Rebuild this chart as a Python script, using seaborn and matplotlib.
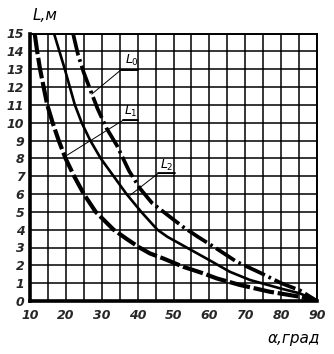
import matplotlib
matplotlib.use("Agg")
import matplotlib.pyplot as plt
import seaborn as sns
import pandas as pd

# Angle (degrees) vs. length L (m) for the three curves
angle_l0 = [22.0, 23.4, 25.0, 26.7, 28.8, 31.3, 34.2, 37.6, 40.7, 44.0, 49.0,
            52.7, 56.8, 62.0, 67.6, 74.0, 80.0, 85.2, 90.0]
length_l0 = [15, 13.8, 12.8, 11.9, 10.8, 9.7, 8.73, 7.3, 6.3, 5.5, 4.72,
             4.15, 3.6, 2.94, 2.2, 1.6, 1.0, 0.6, 0]

angle_l1 = [11.3, 12.0, 12.8, 13.8, 14.8, 16.3, 18.0, 19.9, 22.3, 25.0, 28.3,
            33.3, 36.8, 40.5, 43.4, 47.1, 52.7, 58.3, 62.0, 68.5, 76.8, 85.2, 90.0]
length_l1 = [15, 14, 13, 12, 11, 10, 9, 8, 7, 6, 5,
             4, 3.5, 3.0, 2.67, 2.39, 1.92, 1.55, 1.27, 0.9, 0.52, 0.24, 0]

angle_l2 = [16.7, 18.2, 19.7, 21.1, 22.5, 24.4, 26.8, 29.7, 33.3, 36.9, 41.0,
            45.5, 48.3, 54.2, 60.0, 65.7, 71.3, 79.7, 85.2, 90.0]
length_l2 = [15, 14, 13, 12, 11, 10, 9, 8, 7, 6, 5,
             4, 3.6, 2.94, 2.29, 1.64, 1.18, 0.71, 0.43, 0]

x_ticks = [10, 20, 30, 40, 50, 60, 70, 80, 90]
y_ticks = list(range(0, 16))

# Curve captions: (text, text position, leader line points)
captions = [
    ("$L_0$", (38.3, 13.05), [(27.2, 11.6), (35.3, 12.95), (40.0, 12.95)]),
    ("$L_1$", (38.2, 10.2), [(20.3, 8.17), (35.9, 10.13), (40.1, 10.13)]),
    ("$L_2$", (48.2, 7.2), [(37.9, 5.93), (45.7, 7.15), (50.4, 7.15)]),
]

sns.set_style("white")
plt.rcParams["font.family"] = ["DejaVu Sans"]

fig = plt.figure(figsize=(3.34, 3.54), dpi=100)
ax = fig.add_axes([30 / 334, 53 / 354, 287 / 334, 267.5 / 354])

df0 = pd.DataFrame({"angle": angle_l0, "length": length_l0})
df1 = pd.DataFrame({"angle": angle_l1, "length": length_l1})
df2 = pd.DataFrame({"angle": angle_l2, "length": length_l2})

sns.lineplot(data=df0, x="angle", y="length", ax=ax, color="black",
             linewidth=2.7, sort=False, estimator=None).lines[-1].set_dashes((6, 1.1, 0.7, 1.1))
sns.lineplot(data=df1, x="angle", y="length", ax=ax, color="black",
             linewidth=3.0, sort=False, estimator=None).lines[-1].set_dashes((5, 0.9))
sns.lineplot(data=df2, x="angle", y="length", ax=ax, color="black",
             linewidth=1.9, sort=False, estimator=None)

ax.set_xlim(10, 90)
ax.set_ylim(0, 15)
ax.set_yticks(y_ticks)
ax.set_xticks(x_ticks)
ax.set_xticks(range(15, 90, 10), minor=True)
ax.grid(True, which="major", color="black", linewidth=1.1)
ax.grid(True, which="minor", axis="x", color="black", linewidth=1.1)
ax.set_axisbelow(True)

ax.set_xticklabels([str(v) for v in x_ticks], fontstyle="italic",
                   fontweight="bold", fontsize=9)
ax.set_yticklabels([str(v) for v in y_ticks], fontstyle="italic",
                   fontweight="bold", fontsize=9)
ax.tick_params(axis="both", which="both", length=0)
ax.tick_params(axis="x", pad=6)
ax.tick_params(axis="y", pad=4)

for side in ["top", "right"]:
    ax.spines[side].set_linewidth(1.4)
    ax.spines[side].set_color("black")
for side in ["left", "bottom"]:
    ax.spines[side].set_linewidth(2.6)
    ax.spines[side].set_color("black")

ax.set_xlabel("")
ax.set_ylabel("")

for text, (tx, ty), pts in captions:
    xs = [p[0] for p in pts]
    ys = [p[1] for p in pts]
    ax.plot(xs, ys, color="black", linewidth=0.7)
    ax.plot(xs[-2:], ys[-2:], color="black", linewidth=1.3)
    ax.text(tx, ty, text, ha="center", va="bottom", fontsize=9,
            fontweight="bold", color="black")

fig.text(33 / 334, 1 - 15 / 354, "L,м", ha="left", va="center",
         fontsize=11, fontstyle="italic", color="black")
fig.text(294 / 334, 1 - 338 / 354, "α,град", ha="center", va="center",
         fontsize=11, fontstyle="italic", color="black")

fig.savefig("out.png", dpi=100, facecolor="white")
